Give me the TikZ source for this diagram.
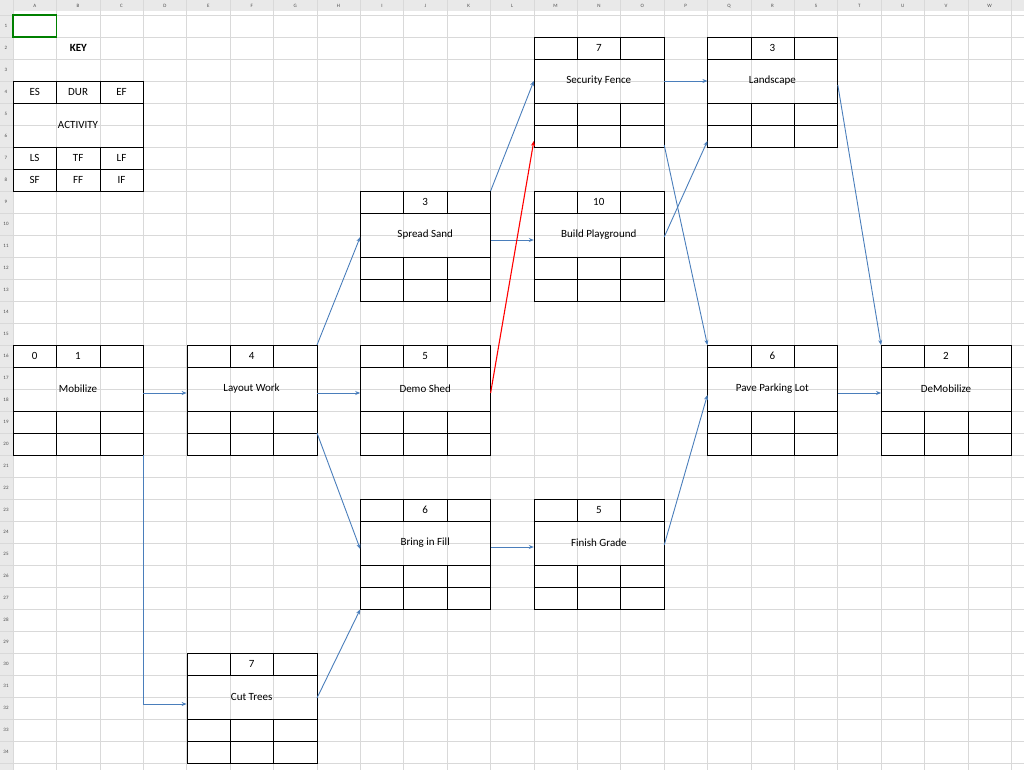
\documentclass[tikz,border=0pt]{standalone}
\usepackage{fontspec}
\setmainfont{Carlito}
\usetikzlibrary{calc,arrows.meta}
\definecolor{arrblue}{HTML}{4A7EBB}
\definecolor{gridc}{HTML}{D9D9D9}
\definecolor{hdr}{HTML}{E9E9E9}
\tikzset{
 box/.style={draw,anchor=north west,minimum width=130pt,minimum height=110pt,inner sep=0pt},
 txt/.style={font=\fontsize{11}{13}\selectfont,inner sep=0pt},
 arr/.style={draw=arrblue,line width=0.9pt,-{Stealth[length=5pt,width=4pt]}},
 redarr/.style={draw=red,line width=1.1pt,-{Stealth[length=5pt,width=4pt]}},
 hd/.style={font=\fontsize{5}{6}\selectfont,text=black!70,inner sep=0pt}
}
\newcommand\actbox[6]{%
 \node[box] (#1) at (#2,#3) {};
 \draw (#2,#3+22) -- ++(130,0) (#2,#3+66) -- ++(130,0) (#2,#3+88) -- ++(130,0);
 \draw (#2+43.4,#3) -- ++(0,22) (#2+86.8,#3) -- ++(0,22);
 \draw (#2+43.4,#3+66) -- ++(0,44) (#2+86.8,#3+66) -- ++(0,44);
 \node[txt] (#1-l) at (#2+65,#3+44) {#4};
 \node[txt] (#1-a) at (#2+21.7,#3+11) {#5};
 \node[txt] (#1-b) at (#2+65,#3+11) {#6};
}
\begin{document}
\begin{tikzpicture}[x=1pt,y=-1pt]
\fill[white] (0,0) rectangle (1024,770);
\useasboundingbox (0,0) rectangle (1024,770);
% headers
\fill[hdr] (0,0) rectangle (1024,11);
\fill[hdr] (0,0) rectangle (13,770);
% grid
\foreach \k in {0,...,23} \draw[gridc,line width=0.5pt] (13+43.4*\k,0) -- (13+43.4*\k,770);
\foreach \k in {0,...,34} \draw[gridc,line width=0.5pt] (0,15+22*\k) -- (1024,15+22*\k);
\foreach \L [count=\i from 0] in {A,B,C,D,E,F,G,H,I,J,K,L,M,N,O,P,Q,R,S,T,U,V,W}
  \node[hd] (col\i) at (34.7+43.4*\i,6) {\L};
\foreach \r in {1,...,34} \node[hd] (row\r) at (6,26+22*\r-22) {\r};
\draw[green!50!black,line width=1.2pt] (13,15) rectangle (56.4,37);
% key
\node[txt,font=\fontsize{11}{13}\selectfont\bfseries] (key) at (78.4,48) {KEY};
\node[draw,anchor=north west,minimum width=130pt,minimum height=110pt,inner sep=0pt] (keybox) at (13,81) {};
\draw (13,103) -- ++(130,0) (13,147) -- ++(130,0) (13,169) -- ++(130,0);
\draw (56.4,81) -- ++(0,22) (99.8,81) -- ++(0,22) (56.4,147) -- ++(0,44) (99.8,147) -- ++(0,44);
\node[txt] (k1) at (34.7,92) {ES}; \node[txt] (k2) at (78.1,92) {DUR}; \node[txt] (k3) at (121.5,92) {EF};
\node[txt] (k4) at (78,125) {ACTIVITY};
\node[txt] (k5) at (34.7,158) {LS}; \node[txt] (k6) at (78.1,158) {TF}; \node[txt] (k7) at (121.5,158) {LF};
\node[txt] (k8) at (34.7,180) {SF}; \node[txt] (k9) at (78.1,180) {FF}; \node[txt] (k10) at (121.5,180) {IF};
% boxes
\actbox{mob}{13}{345}{Mobilize}{0}{1}
\actbox{lay}{186.6}{345}{Layout Work}{}{4}
\actbox{cut}{186.6}{653}{Cut Trees}{}{7}
\actbox{spr}{360.2}{191}{Spread Sand}{}{3}
\actbox{dem}{360.2}{345}{Demo Shed}{}{5}
\actbox{fil}{360.2}{499}{Bring in Fill}{}{6}
\actbox{sec}{533.8}{37}{Security Fence}{}{7}
\actbox{pla}{533.8}{191}{Build Playground}{}{10}
\actbox{gra}{533.8}{499}{Finish Grade}{}{5}
\actbox{lan}{707.4}{37}{Landscape}{}{3}
\actbox{pav}{707.4}{345}{Pave Parking Lot}{}{6}
\actbox{dmb}{881}{345}{DeMobilize}{}{2}
% arrows
\draw[arr] ($(mob.north east)+(0,48)$) -- ($(lay.north west)+(0,48)$);
\draw[arr] (mob.south east) |- ($(cut.north west)+(0,51)$);
\draw[arr] (lay.north east) -- ($(spr.north west)+(0,46)$);
\draw[arr] ($(lay.north east)+(0,48)$) -- ($(dem.north west)+(0,48)$);
\draw[arr] ($(lay.north east)+(0,88)$) -- ($(fil.north west)+(0,50)$);
\draw[arr] ($(cut.north east)+(0,45)$) -- (fil.south west);
\draw[arr] (spr.north east) -- ($(sec.north west)+(0,44)$);
\draw[arr] ($(spr.north east)+(0,49)$) -- ($(pla.north west)+(0,49)$);
\draw[redarr] ($(dem.north east)+(0,48)$) -- ($(sec.north west)+(0,104)$);
\draw[arr] ($(fil.north east)+(0,48)$) -- ($(gra.north west)+(0,48)$);
\draw[arr] ($(sec.north east)+(0,44)$) -- ($(lan.north west)+(0,44)$);
\draw[arr] ($(sec.north east)+(0,108)$) -- (pav.north west);
\draw[arr] ($(pla.north east)+(0,46)$) -- ($(lan.north west)+(0,104)$);
\draw[arr] ($(gra.north east)+(0,46)$) -- ($(pav.north west)+(0,50)$);
\draw[arr] ($(lan.north east)+(0,48)$) -- (dmb.north west);
\draw[arr] ($(pav.north east)+(0,48)$) -- ($(dmb.north west)+(0,48)$);
\end{tikzpicture}
\end{document}
